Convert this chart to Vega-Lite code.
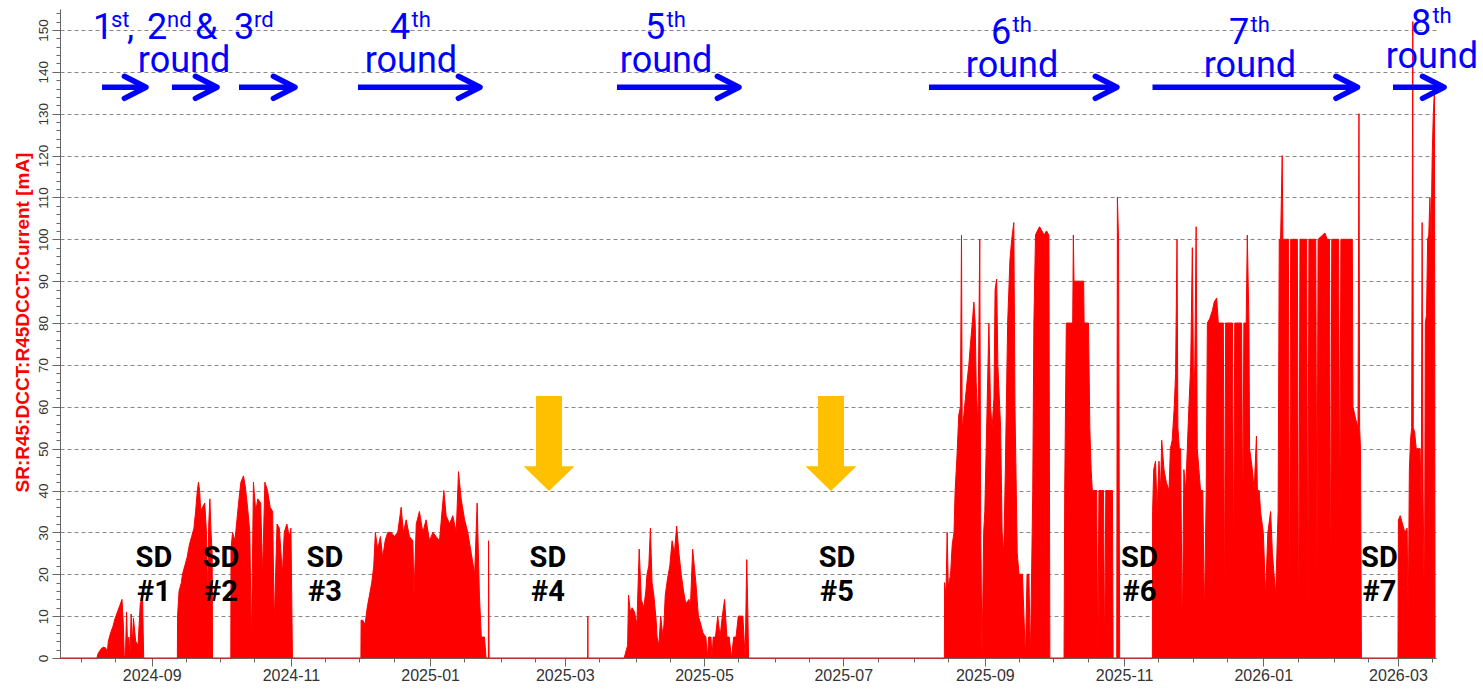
{
  "$schema": "https://vega.github.io/schema/vega-lite/v6.json",
  "width": 1376,
  "height": 649,
  "autosize": {"type": "none"},
  "padding": {"left": 60, "top": 9, "right": 47, "bottom": 34},
  "background": "white",
  "config": {"view": {"stroke": null}, "font": "Liberation Sans"},
  "datasets": {
    "current": [
      {"date": "2024-07-22T20:00Z", "current": 0},
      {"date": "2024-08-08T00:00Z", "current": 0},
      {"date": "2024-08-08T12:00Z", "current": 1},
      {"date": "2024-08-09T00:00Z", "current": 1.5},
      {"date": "2024-08-10T00:00Z", "current": 2.3},
      {"date": "2024-08-11T00:00Z", "current": 2.6},
      {"date": "2024-08-12T00:00Z", "current": 2.3},
      {"date": "2024-08-12T12:00Z", "current": 1},
      {"date": "2024-08-13T00:00Z", "current": 4},
      {"date": "2024-08-14T00:00Z", "current": 6},
      {"date": "2024-08-15T00:00Z", "current": 7.5},
      {"date": "2024-08-16T00:00Z", "current": 9.5},
      {"date": "2024-08-17T00:00Z", "current": 11},
      {"date": "2024-08-18T00:00Z", "current": 12.5},
      {"date": "2024-08-19T00:00Z", "current": 14},
      {"date": "2024-08-19T12:00Z", "current": 9},
      {"date": "2024-08-20T00:00Z", "current": 0.5},
      {"date": "2024-08-20T12:00Z", "current": 0.5},
      {"date": "2024-08-21T00:00Z", "current": 11},
      {"date": "2024-08-21T12:00Z", "current": 2},
      {"date": "2024-08-22T00:00Z", "current": 5},
      {"date": "2024-08-22T12:00Z", "current": 1},
      {"date": "2024-08-23T00:00Z", "current": 10.5},
      {"date": "2024-08-23T12:00Z", "current": 3},
      {"date": "2024-08-24T00:00Z", "current": 9.5},
      {"date": "2024-08-25T00:00Z", "current": 4},
      {"date": "2024-08-26T00:00Z", "current": 3},
      {"date": "2024-08-26T12:00Z", "current": 8},
      {"date": "2024-08-27T00:00Z", "current": 13},
      {"date": "2024-08-28T00:00Z", "current": 14.5},
      {"date": "2024-08-28T12:00Z", "current": 0},
      {"date": "2024-09-12T06:00Z", "current": 0},
      {"date": "2024-09-12T08:00Z", "current": 10},
      {"date": "2024-09-13T00:00Z", "current": 16},
      {"date": "2024-09-14T00:00Z", "current": 18},
      {"date": "2024-09-14T12:00Z", "current": 20},
      {"date": "2024-09-15T12:00Z", "current": 22},
      {"date": "2024-09-16T12:00Z", "current": 24},
      {"date": "2024-09-17T12:00Z", "current": 27},
      {"date": "2024-09-18T12:00Z", "current": 29},
      {"date": "2024-09-19T12:00Z", "current": 31},
      {"date": "2024-09-20T06:00Z", "current": 35},
      {"date": "2024-09-21T00:00Z", "current": 40},
      {"date": "2024-09-21T12:00Z", "current": 42},
      {"date": "2024-09-22T00:00Z", "current": 40},
      {"date": "2024-09-22T12:00Z", "current": 35},
      {"date": "2024-09-23T06:00Z", "current": 36},
      {"date": "2024-09-24T06:00Z", "current": 37},
      {"date": "2024-09-25T00:00Z", "current": 30},
      {"date": "2024-09-25T12:00Z", "current": 15},
      {"date": "2024-09-26T00:00Z", "current": 32},
      {"date": "2024-09-26T12:00Z", "current": 38},
      {"date": "2024-09-27T00:00Z", "current": 30},
      {"date": "2024-09-27T12:00Z", "current": 25},
      {"date": "2024-09-27T16:00Z", "current": 0},
      {"date": "2024-10-05T16:00Z", "current": 0},
      {"date": "2024-10-05T18:00Z", "current": 26},
      {"date": "2024-10-06T10:00Z", "current": 30},
      {"date": "2024-10-07T12:00Z", "current": 28},
      {"date": "2024-10-08T00:00Z", "current": 31},
      {"date": "2024-10-09T06:00Z", "current": 38},
      {"date": "2024-10-10T02:00Z", "current": 42},
      {"date": "2024-10-11T05:00Z", "current": 43.5},
      {"date": "2024-10-12T00:00Z", "current": 41},
      {"date": "2024-10-13T00:00Z", "current": 36},
      {"date": "2024-10-14T00:00Z", "current": 30},
      {"date": "2024-10-14T16:00Z", "current": 3},
      {"date": "2024-10-15T14:00Z", "current": 42},
      {"date": "2024-10-16T14:00Z", "current": 35},
      {"date": "2024-10-17T12:00Z", "current": 38},
      {"date": "2024-10-18T18:00Z", "current": 37},
      {"date": "2024-10-19T14:00Z", "current": 20},
      {"date": "2024-10-20T14:00Z", "current": 42},
      {"date": "2024-10-21T18:00Z", "current": 40},
      {"date": "2024-10-22T22:00Z", "current": 36},
      {"date": "2024-10-24T00:00Z", "current": 35},
      {"date": "2024-10-24T16:00Z", "current": 8},
      {"date": "2024-10-25T22:00Z", "current": 32},
      {"date": "2024-10-26T22:00Z", "current": 31},
      {"date": "2024-10-28T06:00Z", "current": 20},
      {"date": "2024-10-29T02:00Z", "current": 30},
      {"date": "2024-10-30T05:00Z", "current": 32},
      {"date": "2024-10-31T07:00Z", "current": 29},
      {"date": "2024-11-01T00:00Z", "current": 31},
      {"date": "2024-11-01T16:00Z", "current": 0},
      {"date": "2024-12-01T16:00Z", "current": 0},
      {"date": "2024-12-01T18:00Z", "current": 9},
      {"date": "2024-12-02T12:00Z", "current": 9},
      {"date": "2024-12-03T12:00Z", "current": 8},
      {"date": "2024-12-04T10:00Z", "current": 12},
      {"date": "2024-12-05T10:00Z", "current": 15},
      {"date": "2024-12-06T10:00Z", "current": 18},
      {"date": "2024-12-07T07:00Z", "current": 22},
      {"date": "2024-12-08T00:00Z", "current": 30},
      {"date": "2024-12-09T00:00Z", "current": 26},
      {"date": "2024-12-10T05:00Z", "current": 29},
      {"date": "2024-12-11T05:00Z", "current": 24},
      {"date": "2024-12-12T07:00Z", "current": 28},
      {"date": "2024-12-13T10:00Z", "current": 30},
      {"date": "2024-12-14T22:00Z", "current": 30},
      {"date": "2024-12-16T07:00Z", "current": 29},
      {"date": "2024-12-17T19:00Z", "current": 30},
      {"date": "2024-12-19T07:00Z", "current": 36},
      {"date": "2024-12-20T07:00Z", "current": 30},
      {"date": "2024-12-21T12:00Z", "current": 33},
      {"date": "2024-12-22T22:00Z", "current": 29},
      {"date": "2024-12-24T10:00Z", "current": 28},
      {"date": "2024-12-24T22:00Z", "current": 15},
      {"date": "2024-12-25T22:00Z", "current": 32},
      {"date": "2024-12-27T07:00Z", "current": 35},
      {"date": "2024-12-28T19:00Z", "current": 30},
      {"date": "2024-12-30T05:00Z", "current": 33},
      {"date": "2024-12-31T17:00Z", "current": 28},
      {"date": "2025-01-02T05:00Z", "current": 30},
      {"date": "2025-01-03T14:00Z", "current": 29},
      {"date": "2025-01-05T02:00Z", "current": 28},
      {"date": "2025-01-07T00:00Z", "current": 40},
      {"date": "2025-01-08T00:00Z", "current": 34},
      {"date": "2025-01-09T12:00Z", "current": 32},
      {"date": "2025-01-10T22:00Z", "current": 34},
      {"date": "2025-01-12T10:00Z", "current": 30},
      {"date": "2025-01-13T10:00Z", "current": 44.5},
      {"date": "2025-01-14T14:00Z", "current": 38},
      {"date": "2025-01-16T02:00Z", "current": 33},
      {"date": "2025-01-17T12:00Z", "current": 30},
      {"date": "2025-01-19T00:00Z", "current": 25},
      {"date": "2025-01-20T12:00Z", "current": 20},
      {"date": "2025-01-21T14:00Z", "current": 37},
      {"date": "2025-01-22T14:00Z", "current": 15},
      {"date": "2025-01-23T10:00Z", "current": 5},
      {"date": "2025-01-24T19:00Z", "current": 5},
      {"date": "2025-01-25T12:00Z", "current": 0},
      {"date": "2025-01-26T12:00Z", "current": 0},
      {"date": "2025-01-26T14:00Z", "current": 28},
      {"date": "2025-01-26T20:00Z", "current": 0},
      {"date": "2025-03-11T00:00Z", "current": 0},
      {"date": "2025-03-11T02:00Z", "current": 10},
      {"date": "2025-03-11T04:00Z", "current": 0},
      {"date": "2025-03-27T00:00Z", "current": 0},
      {"date": "2025-03-27T12:00Z", "current": 1},
      {"date": "2025-03-28T12:00Z", "current": 3},
      {"date": "2025-03-28T22:00Z", "current": 15},
      {"date": "2025-03-29T17:00Z", "current": 11},
      {"date": "2025-03-30T12:00Z", "current": 12},
      {"date": "2025-03-31T12:00Z", "current": 11},
      {"date": "2025-04-01T14:00Z", "current": 8},
      {"date": "2025-04-02T14:00Z", "current": 26},
      {"date": "2025-04-03T12:00Z", "current": 14},
      {"date": "2025-04-04T14:00Z", "current": 12},
      {"date": "2025-04-05T12:00Z", "current": 16},
      {"date": "2025-04-06T00:00Z", "current": 20},
      {"date": "2025-04-06T19:00Z", "current": 22},
      {"date": "2025-04-07T12:00Z", "current": 31},
      {"date": "2025-04-08T05:00Z", "current": 18},
      {"date": "2025-04-09T00:00Z", "current": 15},
      {"date": "2025-04-10T00:00Z", "current": 9},
      {"date": "2025-04-10T10:00Z", "current": 5},
      {"date": "2025-04-11T05:00Z", "current": 3},
      {"date": "2025-04-12T00:00Z", "current": 10},
      {"date": "2025-04-13T00:00Z", "current": 5},
      {"date": "2025-04-13T10:00Z", "current": 8},
      {"date": "2025-04-14T00:00Z", "current": 15},
      {"date": "2025-04-15T00:00Z", "current": 19},
      {"date": "2025-04-16T00:00Z", "current": 22},
      {"date": "2025-04-17T00:00Z", "current": 28},
      {"date": "2025-04-18T00:00Z", "current": 25},
      {"date": "2025-04-19T00:00Z", "current": 31.5},
      {"date": "2025-04-20T00:00Z", "current": 25},
      {"date": "2025-04-21T00:00Z", "current": 20},
      {"date": "2025-04-22T00:00Z", "current": 16},
      {"date": "2025-04-23T00:00Z", "current": 13},
      {"date": "2025-04-24T10:00Z", "current": 14},
      {"date": "2025-04-25T00:00Z", "current": 12},
      {"date": "2025-04-26T00:00Z", "current": 26},
      {"date": "2025-04-27T10:00Z", "current": 18},
      {"date": "2025-04-28T12:00Z", "current": 10},
      {"date": "2025-04-29T14:00Z", "current": 8},
      {"date": "2025-04-30T12:00Z", "current": 6},
      {"date": "2025-05-01T19:00Z", "current": 5},
      {"date": "2025-05-02T12:00Z", "current": 0},
      {"date": "2025-05-03T00:00Z", "current": 5},
      {"date": "2025-05-04T00:00Z", "current": 5},
      {"date": "2025-05-04T12:00Z", "current": 0},
      {"date": "2025-05-05T00:00Z", "current": 5},
      {"date": "2025-05-06T00:00Z", "current": 5},
      {"date": "2025-05-07T00:00Z", "current": 10},
      {"date": "2025-05-08T00:00Z", "current": 5},
      {"date": "2025-05-09T00:00Z", "current": 10},
      {"date": "2025-05-10T00:00Z", "current": 14},
      {"date": "2025-05-11T00:00Z", "current": 5},
      {"date": "2025-05-12T00:00Z", "current": 5},
      {"date": "2025-05-13T00:00Z", "current": 0},
      {"date": "2025-05-14T00:00Z", "current": 5},
      {"date": "2025-05-15T00:00Z", "current": 5},
      {"date": "2025-05-16T00:00Z", "current": 10},
      {"date": "2025-05-17T00:00Z", "current": 10},
      {"date": "2025-05-18T00:00Z", "current": 10},
      {"date": "2025-05-19T00:00Z", "current": 0},
      {"date": "2025-05-19T17:00Z", "current": 23.5},
      {"date": "2025-05-20T05:00Z", "current": 10},
      {"date": "2025-05-20T12:00Z", "current": 0},
      {"date": "2025-08-14T07:00Z", "current": 0},
      {"date": "2025-08-14T09:00Z", "current": 18},
      {"date": "2025-08-15T00:00Z", "current": 15},
      {"date": "2025-08-15T12:00Z", "current": 30},
      {"date": "2025-08-16T00:00Z", "current": 17},
      {"date": "2025-08-17T00:00Z", "current": 20},
      {"date": "2025-08-17T17:00Z", "current": 27},
      {"date": "2025-08-18T12:00Z", "current": 30},
      {"date": "2025-08-19T00:00Z", "current": 40},
      {"date": "2025-08-19T19:00Z", "current": 48},
      {"date": "2025-08-20T14:00Z", "current": 58},
      {"date": "2025-08-21T07:00Z", "current": 60},
      {"date": "2025-08-21T19:00Z", "current": 101},
      {"date": "2025-08-22T02:00Z", "current": 55},
      {"date": "2025-08-22T19:00Z", "current": 58},
      {"date": "2025-08-23T12:00Z", "current": 62},
      {"date": "2025-08-24T05:00Z", "current": 66},
      {"date": "2025-08-25T00:00Z", "current": 70},
      {"date": "2025-08-25T17:00Z", "current": 75},
      {"date": "2025-08-26T12:00Z", "current": 80},
      {"date": "2025-08-27T05:00Z", "current": 85},
      {"date": "2025-08-27T19:00Z", "current": 80},
      {"date": "2025-08-28T05:00Z", "current": 66},
      {"date": "2025-08-29T00:00Z", "current": 55},
      {"date": "2025-08-29T19:00Z", "current": 100},
      {"date": "2025-08-30T05:00Z", "current": 30},
      {"date": "2025-08-30T19:00Z", "current": 0},
      {"date": "2025-08-31T12:00Z", "current": 30},
      {"date": "2025-09-01T00:00Z", "current": 35},
      {"date": "2025-09-02T00:00Z", "current": 60},
      {"date": "2025-09-02T19:00Z", "current": 80},
      {"date": "2025-09-03T12:00Z", "current": 60},
      {"date": "2025-09-04T05:00Z", "current": 55},
      {"date": "2025-09-05T00:00Z", "current": 62},
      {"date": "2025-09-05T12:00Z", "current": 88},
      {"date": "2025-09-06T05:00Z", "current": 90.5},
      {"date": "2025-09-06T17:00Z", "current": 70},
      {"date": "2025-09-07T22:00Z", "current": 55},
      {"date": "2025-09-08T14:00Z", "current": 30},
      {"date": "2025-09-09T07:00Z", "current": 25},
      {"date": "2025-09-10T00:00Z", "current": 45},
      {"date": "2025-09-11T00:00Z", "current": 80},
      {"date": "2025-09-12T00:00Z", "current": 95},
      {"date": "2025-09-12T19:00Z", "current": 100},
      {"date": "2025-09-13T17:00Z", "current": 104},
      {"date": "2025-09-14T05:00Z", "current": 60},
      {"date": "2025-09-15T05:00Z", "current": 25},
      {"date": "2025-09-16T00:00Z", "current": 20},
      {"date": "2025-09-17T00:00Z", "current": 20},
      {"date": "2025-09-17T12:00Z", "current": 20},
      {"date": "2025-09-18T19:00Z", "current": 0},
      {"date": "2025-09-19T12:00Z", "current": 20},
      {"date": "2025-09-20T07:00Z", "current": 20},
      {"date": "2025-09-21T00:00Z", "current": 0},
      {"date": "2025-09-22T00:00Z", "current": 40},
      {"date": "2025-09-22T12:00Z", "current": 80},
      {"date": "2025-09-23T05:00Z", "current": 101},
      {"date": "2025-09-24T00:00Z", "current": 102},
      {"date": "2025-09-25T00:00Z", "current": 103},
      {"date": "2025-09-26T00:00Z", "current": 102},
      {"date": "2025-09-27T00:00Z", "current": 101},
      {"date": "2025-09-28T00:00Z", "current": 102},
      {"date": "2025-09-29T02:00Z", "current": 101},
      {"date": "2025-09-29T12:00Z", "current": 0},
      {"date": "2025-10-05T17:00Z", "current": 0},
      {"date": "2025-10-06T00:00Z", "current": 40},
      {"date": "2025-10-06T17:00Z", "current": 80},
      {"date": "2025-10-08T00:00Z", "current": 80},
      {"date": "2025-10-09T12:00Z", "current": 80},
      {"date": "2025-10-09T19:00Z", "current": 101},
      {"date": "2025-10-10T02:00Z", "current": 90},
      {"date": "2025-10-11T00:00Z", "current": 90},
      {"date": "2025-10-12T00:00Z", "current": 90},
      {"date": "2025-10-13T00:00Z", "current": 90},
      {"date": "2025-10-14T07:00Z", "current": 90},
      {"date": "2025-10-14T12:00Z", "current": 80},
      {"date": "2025-10-16T10:00Z", "current": 80},
      {"date": "2025-10-17T00:00Z", "current": 55},
      {"date": "2025-10-17T14:00Z", "current": 45},
      {"date": "2025-10-18T02:00Z", "current": 40},
      {"date": "2025-10-19T00:00Z", "current": 40},
      {"date": "2025-10-20T00:00Z", "current": 40},
      {"date": "2025-10-20T12:00Z", "current": 0},
      {"date": "2025-10-21T00:00Z", "current": 40},
      {"date": "2025-10-22T00:00Z", "current": 40},
      {"date": "2025-10-23T00:00Z", "current": 40},
      {"date": "2025-10-23T12:00Z", "current": 0},
      {"date": "2025-10-24T00:00Z", "current": 40},
      {"date": "2025-10-25T00:00Z", "current": 40},
      {"date": "2025-10-26T00:00Z", "current": 40},
      {"date": "2025-10-26T22:00Z", "current": 40},
      {"date": "2025-10-27T05:00Z", "current": 0},
      {"date": "2025-10-28T19:00Z", "current": 0},
      {"date": "2025-10-29T02:00Z", "current": 110},
      {"date": "2025-10-29T14:00Z", "current": 100},
      {"date": "2025-10-30T02:00Z", "current": 0},
      {"date": "2025-11-13T10:00Z", "current": 0},
      {"date": "2025-11-13T12:00Z", "current": 35},
      {"date": "2025-11-14T00:00Z", "current": 45},
      {"date": "2025-11-14T19:00Z", "current": 47},
      {"date": "2025-11-15T12:00Z", "current": 35},
      {"date": "2025-11-16T07:00Z", "current": 47},
      {"date": "2025-11-17T00:00Z", "current": 40},
      {"date": "2025-11-17T12:00Z", "current": 52},
      {"date": "2025-11-18T12:00Z", "current": 45},
      {"date": "2025-11-19T12:00Z", "current": 42},
      {"date": "2025-11-20T17:00Z", "current": 40},
      {"date": "2025-11-21T07:00Z", "current": 50},
      {"date": "2025-11-22T02:00Z", "current": 52},
      {"date": "2025-11-23T00:00Z", "current": 60},
      {"date": "2025-11-23T14:00Z", "current": 68},
      {"date": "2025-11-24T05:00Z", "current": 100},
      {"date": "2025-11-24T14:00Z", "current": 55},
      {"date": "2025-11-25T05:00Z", "current": 50},
      {"date": "2025-11-25T19:00Z", "current": 50},
      {"date": "2025-11-26T12:00Z", "current": 5},
      {"date": "2025-11-27T05:00Z", "current": 45},
      {"date": "2025-11-28T00:00Z", "current": 40},
      {"date": "2025-11-29T10:00Z", "current": 60},
      {"date": "2025-11-30T05:00Z", "current": 70},
      {"date": "2025-11-30T22:00Z", "current": 98},
      {"date": "2025-12-01T12:00Z", "current": 60},
      {"date": "2025-12-02T00:00Z", "current": 70},
      {"date": "2025-12-02T14:00Z", "current": 103},
      {"date": "2025-12-03T02:00Z", "current": 50},
      {"date": "2025-12-04T12:00Z", "current": 40},
      {"date": "2025-12-05T12:00Z", "current": 40},
      {"date": "2025-12-06T05:00Z", "current": 10},
      {"date": "2025-12-07T00:00Z", "current": 40},
      {"date": "2025-12-07T12:00Z", "current": 80},
      {"date": "2025-12-08T12:00Z", "current": 81},
      {"date": "2025-12-09T17:00Z", "current": 83},
      {"date": "2025-12-10T12:00Z", "current": 85},
      {"date": "2025-12-11T14:00Z", "current": 86},
      {"date": "2025-12-12T07:00Z", "current": 80},
      {"date": "2025-12-13T07:00Z", "current": 80},
      {"date": "2025-12-14T12:00Z", "current": 80},
      {"date": "2025-12-15T00:00Z", "current": 10},
      {"date": "2025-12-15T12:00Z", "current": 80},
      {"date": "2025-12-17T00:00Z", "current": 80},
      {"date": "2025-12-18T12:00Z", "current": 80},
      {"date": "2025-12-19T00:00Z", "current": 20},
      {"date": "2025-12-19T12:00Z", "current": 80},
      {"date": "2025-12-21T00:00Z", "current": 80},
      {"date": "2025-12-22T12:00Z", "current": 80},
      {"date": "2025-12-23T00:00Z", "current": 30},
      {"date": "2025-12-23T12:00Z", "current": 80},
      {"date": "2025-12-24T12:00Z", "current": 80},
      {"date": "2025-12-25T00:00Z", "current": 101},
      {"date": "2025-12-25T17:00Z", "current": 80},
      {"date": "2025-12-26T00:00Z", "current": 50},
      {"date": "2025-12-27T05:00Z", "current": 45},
      {"date": "2025-12-28T00:00Z", "current": 40},
      {"date": "2025-12-29T00:00Z", "current": 53},
      {"date": "2025-12-29T10:00Z", "current": 40},
      {"date": "2025-12-30T05:00Z", "current": 40},
      {"date": "2025-12-30T19:00Z", "current": 35},
      {"date": "2026-01-01T00:00Z", "current": 30},
      {"date": "2026-01-02T00:00Z", "current": 15},
      {"date": "2026-01-03T00:00Z", "current": 30},
      {"date": "2026-01-04T05:00Z", "current": 35},
      {"date": "2026-01-05T00:00Z", "current": 25},
      {"date": "2026-01-06T10:00Z", "current": 15},
      {"date": "2026-01-07T12:00Z", "current": 35},
      {"date": "2026-01-08T00:00Z", "current": 100},
      {"date": "2026-01-08T14:00Z", "current": 100},
      {"date": "2026-01-09T07:00Z", "current": 120},
      {"date": "2026-01-09T14:00Z", "current": 100},
      {"date": "2026-01-11T00:00Z", "current": 100},
      {"date": "2026-01-12T00:00Z", "current": 100},
      {"date": "2026-01-12T12:00Z", "current": 5},
      {"date": "2026-01-13T00:00Z", "current": 100},
      {"date": "2026-01-15T00:00Z", "current": 100},
      {"date": "2026-01-15T22:00Z", "current": 100},
      {"date": "2026-01-16T12:00Z", "current": 0},
      {"date": "2026-01-17T02:00Z", "current": 100},
      {"date": "2026-01-19T00:00Z", "current": 100},
      {"date": "2026-01-20T00:00Z", "current": 100},
      {"date": "2026-01-20T12:00Z", "current": 10},
      {"date": "2026-01-21T00:00Z", "current": 100},
      {"date": "2026-01-23T00:00Z", "current": 100},
      {"date": "2026-01-24T00:00Z", "current": 100},
      {"date": "2026-01-24T12:00Z", "current": 20},
      {"date": "2026-01-25T00:00Z", "current": 100},
      {"date": "2026-01-28T00:00Z", "current": 101.5},
      {"date": "2026-01-29T00:00Z", "current": 100},
      {"date": "2026-01-30T00:00Z", "current": 100},
      {"date": "2026-01-30T12:00Z", "current": 10},
      {"date": "2026-01-31T00:00Z", "current": 100},
      {"date": "2026-02-02T00:00Z", "current": 100},
      {"date": "2026-02-03T00:00Z", "current": 100},
      {"date": "2026-02-03T12:00Z", "current": 30},
      {"date": "2026-02-04T00:00Z", "current": 100},
      {"date": "2026-02-06T00:00Z", "current": 100},
      {"date": "2026-02-08T00:00Z", "current": 100},
      {"date": "2026-02-09T00:00Z", "current": 100},
      {"date": "2026-02-09T07:00Z", "current": 60},
      {"date": "2026-02-10T12:00Z", "current": 57},
      {"date": "2026-02-11T12:00Z", "current": 55},
      {"date": "2026-02-11T22:00Z", "current": 130},
      {"date": "2026-02-12T05:00Z", "current": 55},
      {"date": "2026-02-12T14:00Z", "current": 50},
      {"date": "2026-02-13T00:00Z", "current": 0},
      {"date": "2026-03-01T00:00Z", "current": 0},
      {"date": "2026-03-01T05:00Z", "current": 33},
      {"date": "2026-03-02T00:00Z", "current": 34},
      {"date": "2026-03-03T00:00Z", "current": 32},
      {"date": "2026-03-04T00:00Z", "current": 30},
      {"date": "2026-03-05T00:00Z", "current": 31},
      {"date": "2026-03-05T12:00Z", "current": 10},
      {"date": "2026-03-06T00:00Z", "current": 45},
      {"date": "2026-03-06T12:00Z", "current": 52},
      {"date": "2026-03-07T00:00Z", "current": 55},
      {"date": "2026-03-07T12:00Z", "current": 152},
      {"date": "2026-03-07T17:00Z", "current": 55},
      {"date": "2026-03-08T07:00Z", "current": 54},
      {"date": "2026-03-09T00:00Z", "current": 50},
      {"date": "2026-03-10T00:00Z", "current": 50},
      {"date": "2026-03-10T17:00Z", "current": 50},
      {"date": "2026-03-11T05:00Z", "current": 35},
      {"date": "2026-03-11T14:00Z", "current": 104},
      {"date": "2026-03-12T00:00Z", "current": 40},
      {"date": "2026-03-12T14:00Z", "current": 10},
      {"date": "2026-03-13T00:00Z", "current": 80},
      {"date": "2026-03-13T12:00Z", "current": 82},
      {"date": "2026-03-14T00:00Z", "current": 100},
      {"date": "2026-03-14T12:00Z", "current": 101},
      {"date": "2026-03-15T00:00Z", "current": 110},
      {"date": "2026-03-15T12:00Z", "current": 100},
      {"date": "2026-03-16T00:00Z", "current": 120},
      {"date": "2026-03-16T12:00Z", "current": 130},
      {"date": "2026-03-17T00:00Z", "current": 136},
      {"date": "2026-03-17T06:00Z", "current": 0}
    ],
    "shutdowns": [
      {"date": "2024-09-02T00:00Z", "label": "SD\n#1", "level": 23.9},
      {"date": "2024-10-01T09:00Z", "label": "SD\n#2", "level": 23.9},
      {"date": "2024-11-15T22:00Z", "label": "SD\n#3", "level": 23.9},
      {"date": "2025-02-21T14:00Z", "label": "SD\n#4", "level": 23.9},
      {"date": "2025-06-28T06:00Z", "label": "SD\n#5", "level": 23.9},
      {"date": "2025-11-07T18:00Z", "label": "SD\n#6", "level": 23.9},
      {"date": "2026-02-20T21:00Z", "label": "SD\n#7", "level": 23.9}
    ],
    "roundBase": [
      {"date": "2024-08-06T07:00Z", "label": "1", "level": 147.84},
      {"date": "2024-08-21T04:00Z", "label": ",", "level": 147.84},
      {"date": "2024-08-29T23:00Z", "label": "2", "level": 147.84},
      {"date": "2024-09-19T23:00Z", "label": "&", "level": 147.84},
      {"date": "2024-10-07T01:00Z", "label": "3", "level": 147.84},
      {"date": "2024-12-14T10:00Z", "label": "4", "level": 147.84},
      {"date": "2025-04-05T03:00Z", "label": "5", "level": 147.84},
      {"date": "2025-09-03T17:00Z", "label": "6", "level": 146.64},
      {"date": "2025-12-16T23:00Z", "label": "7", "level": 146.64},
      {"date": "2026-03-06T17:00Z", "label": "8", "level": 148.8}
    ],
    "roundSup": [
      {"date": "2024-08-14T04:00Z", "label": "st", "level": 150.7},
      {"date": "2024-09-07T17:00Z", "label": "nd", "level": 150.7},
      {"date": "2024-10-15T20:00Z", "label": "rd", "level": 150.7},
      {"date": "2024-12-23T20:00Z", "label": "th", "level": 150.7},
      {"date": "2025-04-14T13:00Z", "label": "th", "level": 150.7},
      {"date": "2025-09-13T03:00Z", "label": "th", "level": 149.5},
      {"date": "2025-12-26T09:00Z", "label": "th", "level": 149.5},
      {"date": "2026-03-16T02:00Z", "label": "th", "level": 151.66}
    ],
    "roundWord": [
      {"date": "2024-09-15T04:00Z", "label": "round", "level": 139.96},
      {"date": "2024-12-23T14:00Z", "label": "round", "level": 139.96},
      {"date": "2025-04-14T08:00Z", "label": "round", "level": 139.96},
      {"date": "2025-09-12T22:00Z", "label": "round", "level": 138.76},
      {"date": "2025-12-26T04:00Z", "label": "round", "level": 138.76},
      {"date": "2026-03-15T21:00Z", "label": "round", "level": 140.9}
    ],
    "roundArrows": [
      {"start": "2024-08-10T06:00Z", "end": "2024-08-29T02:00Z", "head": "2024-08-29T12:00Z", "level": 136.3},
      {"start": "2024-09-09T21:00Z", "end": "2024-09-29T04:00Z", "head": "2024-09-29T15:00Z", "level": 136.3},
      {"start": "2024-10-09T06:00Z", "end": "2024-11-02T08:00Z", "head": "2024-11-02T19:00Z", "level": 136.3},
      {"start": "2024-11-30T09:00Z", "end": "2025-01-22T09:00Z", "head": "2025-01-22T20:00Z", "level": 136.3},
      {"start": "2025-03-23T20:00Z", "end": "2025-05-15T21:00Z", "head": "2025-05-16T07:00Z", "level": 136.3},
      {"start": "2025-08-07T13:00Z", "end": "2025-10-28T11:00Z", "head": "2025-10-28T21:00Z", "level": 136.3},
      {"start": "2025-11-13T11:00Z", "end": "2026-02-10T20:00Z", "head": "2026-02-11T07:00Z", "level": 136.3},
      {"start": "2026-02-26T20:00Z", "end": "2026-03-20T18:00Z", "head": "2026-03-21T05:00Z", "level": 136.3}
    ],
    "markers": [
      {"date": "2025-02-22T02:00Z", "level": 51.2},
      {"date": "2025-06-25T14:00Z", "level": 51.2}
    ]
  },
  "layer": [
    {
      "data": {"name": "current"},
      "mark": {"type": "area", "color": "#ff0000", "opacity": 1, "interpolate": "linear"},
      "encoding": {
        "x": {
          "field": "date",
          "type": "temporal",
          "scale": {
            "type": "utc",
            "nice": false,
            "domain": [
              {"year": 2024, "month": 7, "date": 22, "hours": 20, "utc": true},
              {"year": 2026, "month": 3, "date": 17, "hours": 16, "utc": true}
            ]
          },
          "axis": {
            "title": null,
            "grid": false,
            "tickCount": 1000,
            "values": [
              {"year": 2024, "month": 8, "date": 1, "utc": true}, {"year": 2024, "month": 8, "date": 16, "utc": true},
              {"year": 2024, "month": 9, "date": 1, "utc": true}, {"year": 2024, "month": 9, "date": 16, "utc": true},
              {"year": 2024, "month": 10, "date": 1, "utc": true}, {"year": 2024, "month": 10, "date": 16, "utc": true},
              {"year": 2024, "month": 11, "date": 1, "utc": true}, {"year": 2024, "month": 11, "date": 16, "utc": true},
              {"year": 2024, "month": 12, "date": 1, "utc": true}, {"year": 2024, "month": 12, "date": 16, "utc": true},
              {"year": 2025, "month": 1, "date": 1, "utc": true}, {"year": 2025, "month": 1, "date": 16, "utc": true},
              {"year": 2025, "month": 2, "date": 1, "utc": true}, {"year": 2025, "month": 2, "date": 16, "utc": true},
              {"year": 2025, "month": 3, "date": 1, "utc": true}, {"year": 2025, "month": 3, "date": 16, "utc": true},
              {"year": 2025, "month": 4, "date": 1, "utc": true}, {"year": 2025, "month": 4, "date": 16, "utc": true},
              {"year": 2025, "month": 5, "date": 1, "utc": true}, {"year": 2025, "month": 5, "date": 16, "utc": true},
              {"year": 2025, "month": 6, "date": 1, "utc": true}, {"year": 2025, "month": 6, "date": 16, "utc": true},
              {"year": 2025, "month": 7, "date": 1, "utc": true}, {"year": 2025, "month": 7, "date": 16, "utc": true},
              {"year": 2025, "month": 8, "date": 1, "utc": true}, {"year": 2025, "month": 8, "date": 16, "utc": true},
              {"year": 2025, "month": 9, "date": 1, "utc": true}, {"year": 2025, "month": 9, "date": 16, "utc": true},
              {"year": 2025, "month": 10, "date": 1, "utc": true}, {"year": 2025, "month": 10, "date": 16, "utc": true},
              {"year": 2025, "month": 11, "date": 1, "utc": true}, {"year": 2025, "month": 11, "date": 16, "utc": true},
              {"year": 2025, "month": 12, "date": 1, "utc": true}, {"year": 2025, "month": 12, "date": 16, "utc": true},
              {"year": 2026, "month": 1, "date": 1, "utc": true}, {"year": 2026, "month": 1, "date": 16, "utc": true},
              {"year": 2026, "month": 2, "date": 1, "utc": true}, {"year": 2026, "month": 2, "date": 16, "utc": true},
              {"year": 2026, "month": 3, "date": 1, "utc": true}, {"year": 2026, "month": 3, "date": 16, "utc": true}
            ],
            "labelExpr": "utcdate(datum.value) == 1 && utcmonth(datum.value) % 2 == 0 ? utcFormat(datum.value, '%Y-%m') : ''",
            "tickSize": {"condition": {"test": "utcdate(datum.value) == 1 && utcmonth(datum.value) % 2 == 0", "value": 8}, "value": 4},
            "labelOverlap": false,
            "labelFlush": false,
            "labelFontSize": 16,
            "labelColor": "#333333",
            "labelPadding": 1,
            "domainColor": "#666666",
            "tickColor": "#666666"
          }
        },
        "y": {
          "field": "current",
          "type": "quantitative",
          "scale": {"domain": [0, 155], "nice": false},
          "axis": {
            "title": "SR:R45:DCCT:R45DCCT:Current [mA]",
            "titleColor": "#ff0000",
            "titleFontSize": 19,
            "titleFontWeight": "bold",
            "titlePadding": 4,
            "titleY": 313,
            "tickCount": 1000,
            "values": [0, 2, 4, 6, 8, 10, 12, 14, 16, 18, 20, 22, 24, 26, 28, 30, 32, 34, 36, 38, 40, 42, 44, 46, 48, 50, 52, 54, 56, 58, 60, 62, 64, 66, 68, 70, 72, 74, 76, 78, 80, 82, 84, 86, 88, 90, 92, 94, 96, 98, 100, 102, 104, 106, 108, 110, 112, 114, 116, 118, 120, 122, 124, 126, 128, 130, 132, 134, 136, 138, 140, 142, 144, 146, 148, 150, 152, 154],
            "labelExpr": "datum.value % 10 == 0 ? format(datum.value, 'd') : ''",
            "labelAngle": -90,
            "labelAlign": "center",
            "labelBaseline": "bottom",
            "labelFontSize": 13.5,
            "labelColor": "#333333",
            "labelPadding": 2,
            "labelOverlap": false,
            "tickSize": {"condition": {"test": "datum.value % 10 == 0", "value": 8}, "value": 4},
            "grid": true,
            "gridColor": "#888888",
            "gridDash": [4, 3],
            "gridOpacity": {"condition": {"test": "datum.value % 10 == 0", "value": 1}, "value": 0},
            "domainColor": "#666666",
            "tickColor": "#666666"
          }
        }
      }
    },
    {
      "data": {"name": "current"},
      "mark": {"type": "line", "color": "#ff0000", "strokeWidth": 1, "interpolate": "linear"},
      "encoding": {
        "x": {"field": "date", "type": "temporal"},
        "y": {"field": "current", "type": "quantitative"}
      }
    },
    {
      "data": {"name": "roundArrows"},
      "mark": {"type": "rule", "color": "#0000ff", "strokeWidth": 5.5},
      "encoding": {
        "x": {"field": "start", "type": "temporal"},
        "x2": {"field": "end"},
        "y": {"field": "level", "type": "quantitative"}
      }
    },
    {
      "data": {"name": "roundArrows"},
      "mark": {"type": "point", "shape": "M-0.9,-0.46L0,0L-0.9,0.46", "filled": false, "stroke": "#0000ff", "strokeWidth": 5.5, "strokeCap": "round", "strokeJoin": "round", "opacity": 1, "size": 2304},
      "encoding": {
        "x": {"field": "head", "type": "temporal"},
        "y": {"field": "level", "type": "quantitative"}
      }
    },
    {
      "data": {"name": "markers"},
      "mark": {"type": "point", "shape": "M-0.274,-1L0.274,-1L0.274,0.474L0.537,0.474L0,1L-0.537,0.474L-0.274,0.474Z", "filled": true, "fill": "#ffc000", "strokeWidth": 0, "opacity": 1, "size": 9025},
      "encoding": {
        "x": {"field": "date", "type": "temporal"},
        "y": {"field": "level", "type": "quantitative"}
      }
    },
    {
      "data": {"name": "shutdowns"},
      "mark": {"type": "text", "font": "Roboto", "fontWeight": "bold", "fontSize": 29, "color": "#000000", "align": "center", "baseline": "middle", "lineBreak": "\n", "lineHeight": 34},
      "encoding": {
        "x": {"field": "date", "type": "temporal"},
        "y": {"field": "level", "type": "quantitative"},
        "text": {"field": "label"}
      }
    },
    {
      "data": {"name": "roundBase"},
      "mark": {"type": "text", "font": "Roboto", "fontSize": 36, "color": "#0000ff", "align": "left", "baseline": "alphabetic"},
      "encoding": {
        "x": {"field": "date", "type": "temporal"},
        "y": {"field": "level", "type": "quantitative"},
        "text": {"field": "label"}
      }
    },
    {
      "data": {"name": "roundSup"},
      "mark": {"type": "text", "font": "Roboto", "fontSize": 22, "color": "#0000ff", "align": "left", "baseline": "alphabetic"},
      "encoding": {
        "x": {"field": "date", "type": "temporal"},
        "y": {"field": "level", "type": "quantitative"},
        "text": {"field": "label"}
      }
    },
    {
      "data": {"name": "roundWord"},
      "mark": {"type": "text", "font": "Roboto", "fontSize": 36, "color": "#0000ff", "align": "center", "baseline": "alphabetic"},
      "encoding": {
        "x": {"field": "date", "type": "temporal"},
        "y": {"field": "level", "type": "quantitative"},
        "text": {"field": "label"}
      }
    }
  ]
}
